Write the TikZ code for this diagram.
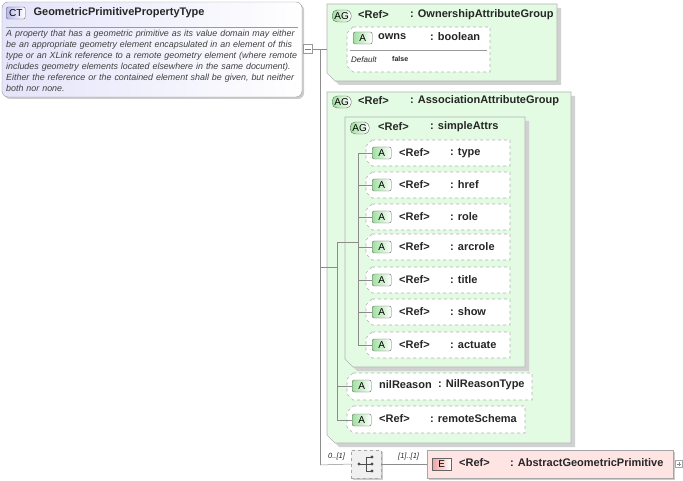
\documentclass[tikz,border=0pt]{standalone}
\usepackage{fontspec}
\setmainfont{Liberation Sans}
\usetikzlibrary{positioning,shadows}

\definecolor{grpfill}{HTML}{E2FBE2}
\definecolor{grpline}{HTML}{B4B4B4}
\definecolor{ctfill}{HTML}{E4E4FA}
\definecolor{badgeG}{HTML}{9FE09F}
\definecolor{badgeP}{HTML}{B8B8F0}
\definecolor{badgeR}{HTML}{F5A0A0}
\definecolor{efill}{HTML}{FFE4E4}

\tikzset{
  lbl/.style={font=\fontsize{11}{12}\selectfont\bfseries, text=black!85, inner sep=0pt, anchor=west},
  badge/.style={draw=black!60, rounded corners=2pt, font=\fontsize{10}{11}\selectfont, minimum width=19pt, minimum height=12pt, inner sep=0pt, anchor=west},
  conn/.style={draw=black!45, line width=0.5pt},
  grp/.style={fill=grpfill, draw=grpline, line width=0.6pt},
  att/.style={fill=white, draw=black!30, dashed, line width=0.6pt},
}

% chamfered group box: x1,y1,x2,y2
\newcommand\grpbox[4]{%
  \fill[black!18] (#1+4,#2+4) -- (#3+4,#2+4) -- (#3+4,#4+4) -- (#1+12,#4+4) -- (#1+4,#4-4) -- cycle;
  \path[grp] (#1,#2) -- (#3,#2) -- (#3,#4) -- (#1+8,#4) -- (#1,#4-8) -- cycle;}
% dashed attribute box
\newcommand\attbox[4]{%
  \path[att] (#1+6,#2) -- (#3,#2) -- (#3,#4) -- (#1+6,#4) -- (#1,#4-6) -- (#1,#2+6) -- cycle;}

\begin{document}
\begin{tikzpicture}[x=1pt,y=-1pt]
  \useasboundingbox (0,0) rectangle (683,481);

  % complex type
  \fill[black!20, rounded corners=6pt] (4,4) rectangle (304,99);
  \shade[left color=ctfill, right color=white, draw=black!40, rounded corners=6pt] (2,2) rectangle (302,97);
  \draw[black!40] (6,27) -- (298,27);
  \node[badge, left color=badgeP, right color=white] (ctb) at (6,13) {CT};
  \node[lbl, right=8pt of ctb, font=\fontsize{11}{12}\selectfont\bfseries] (ct) {GeometricPrimitivePropertyType};
  \node[anchor=north west, inner sep=0pt, text width=293pt, align=left,
        font=\fontsize{8.9}{10.9}\selectfont\itshape, text=black!75] (ctdoc) at (6,30)
    {A property that has a geometric primitive as its value domain may either be an appropriate geometry element encapsulated in an element of this type or an XLink reference to a remote geometry element (where remote includes geometry elements located elsewhere in the same document). Either the reference or the contained element shall be given, but neither both nor none.};
  \node[draw=black!40, fill=white, minimum size=9pt, inner sep=0pt] (ctx) at (308,49) {};
  \draw[black!50] (305,49) -- (311,49);

  % ownership group
  \grpbox{327}{4}{557}{81}
  \node[badge, left color=badgeG, right color=white, rounded corners=5pt] (ag1) at (332,16) {AG};
  \node[lbl] (ag1r) at (358,15) {<Ref>};
  \node[lbl] (ag1t) at (410,15) {: OwnershipAttributeGroup};
  \attbox{347}{27}{490}{72}
  \node[badge, left color=badgeG, right color=white] (ownb) at (353,38) {A};
  \node[lbl] (own) at (378,37) {owns};
  \node[lbl] (ownt) at (430,37) {: boolean};
  \draw[black!40] (350,50) -- (487,50);
  \node[lbl, font=\fontsize{8}{9}\selectfont\itshape] (dflt) at (351,60) {Default};
  \node[lbl, font=\fontsize{7}{8}\selectfont\bfseries] (dval) at (392,59) {false};

  % association group
  \grpbox{327}{92}{571}{443}
  \node[badge, left color=badgeG, right color=white, rounded corners=5pt] (ag2) at (332,102) {AG};
  \node[lbl] (ag2r) at (358,101) {<Ref>};
  \node[lbl] (ag2t) at (410,101) {: AssociationAttributeGroup};
  \grpbox{345}{117}{525}{367}
  \node[badge, left color=badgeG, right color=white, rounded corners=5pt] (ag3) at (350,128) {AG};
  \node[lbl] (ag3r) at (378,127) {<Ref>};
  \node[lbl] (ag3t) at (430,127) {: simpleAttrs};

  \foreach \nm/\yy in {type/153,href/185,role/217,arcrole/247,title/280,show/312,actuate/345} {
    \attbox{366}{\yy-13}{510}{\yy+13}
    \node[badge, left color=badgeG, right color=white] (a-\nm) at (372,\yy) {A};
    \node[lbl] (r-\nm) at (399,\yy) {<Ref>};
    \node[lbl] (t-\nm) at (450,\yy) {: \nm};
    \coordinate (j-\nm) at (358,\yy);
    \draw[conn] (j-\nm) -- (a-\nm.west);
  }
  \draw[conn] (j-type) -- (j-actuate);

  \attbox{347}{373}{532}{400}
  \node[badge, left color=badgeG, right color=white] (a-nil) at (352,386) {A};
  \node[lbl] (n-nil) at (379,385) {nilReason};
  \node[lbl] (t-nil) at (438,385) {: NilReasonType};
  \attbox{347}{406}{525}{433}
  \node[badge, left color=badgeG, right color=white] (a-rs) at (352,420) {A};
  \node[lbl] (r-rs) at (379,419) {<Ref>};
  \node[lbl] (t-rs) at (430,419) {: remoteSchema};

  % tree connectors
  \coordinate (m0) at (313,49);
  \coordinate (m1) at (320,49);
  \coordinate (m2) at (320,267);
  \coordinate (m3) at (320,465);
  \coordinate (g1) at (327,49);
  \coordinate (g2) at (337,267);
  \coordinate (s0) at (337,242);
  \coordinate (s2) at (358,242);
  \coordinate (s3) at (337,386);
  \coordinate (s4) at (337,420);
  \draw[conn] (m0) -- (m1) -- (m3);
  \draw[conn] (m1) -- (g1);
  \draw[conn] (m2) -- (g2);
  \draw[conn] (s0) -- (s4) -- (a-rs.west);
  \draw[conn] (s0) -- (s2);
  \draw[conn] (s3) -- (a-nil.west);
  \draw[conn] (ctx.east) -- (m0);

  % sequence
  \fill[black!20] (353,452) rectangle (383,480);
  \node[draw=black!35, dashed, fill=black!6, minimum width=30pt, minimum height=28pt, inner sep=0pt] (seq) at (366,464) {};
  \fill[black!70] (359,464) circle (1.6pt);
  \draw[black!70, line width=0.8pt] (359,464) -- (366,464) (366,457) -- (366,471) (366,457) -- (372,457) (366,464) -- (372,464) (366,471) -- (372,471);
  \foreach \yy in {457,464,471} \fill[black!70] (372,\yy) circle (1.6pt);
  \draw[conn] (m3) -- (seq.west);
  \node[lbl, font=\fontsize{7.5}{8}\selectfont\itshape] (mult1) at (328,457) {0..[1]};
  \node[lbl, font=\fontsize{7.5}{8}\selectfont\itshape] (mult2) at (398,457) {[1]..[1]};

  % element
  \fill[black!20] (429,452) rectangle (675,480);
  \node[draw=black!35, fill=efill, minimum width=246pt, minimum height=28pt, inner sep=0pt] (elem) at (550,464) {};
  \draw[conn] (seq.east) -- (elem.west);
  \node[badge, left color=badgeR, right color=white, rounded corners=0pt] (eb) at (432,464) {E};
  \node[lbl] (er) at (459,463) {<Ref>};
  \node[lbl] (et) at (510,463) {: AbstractGeometricPrimitive};
  \node[draw=black!35, fill=white, minimum size=7pt, inner sep=0pt] (ex) at (679,464) {};
  \draw[black!45] (677,464) -- (681,464) (679,462) -- (679,466);
\end{tikzpicture}
\end{document}
